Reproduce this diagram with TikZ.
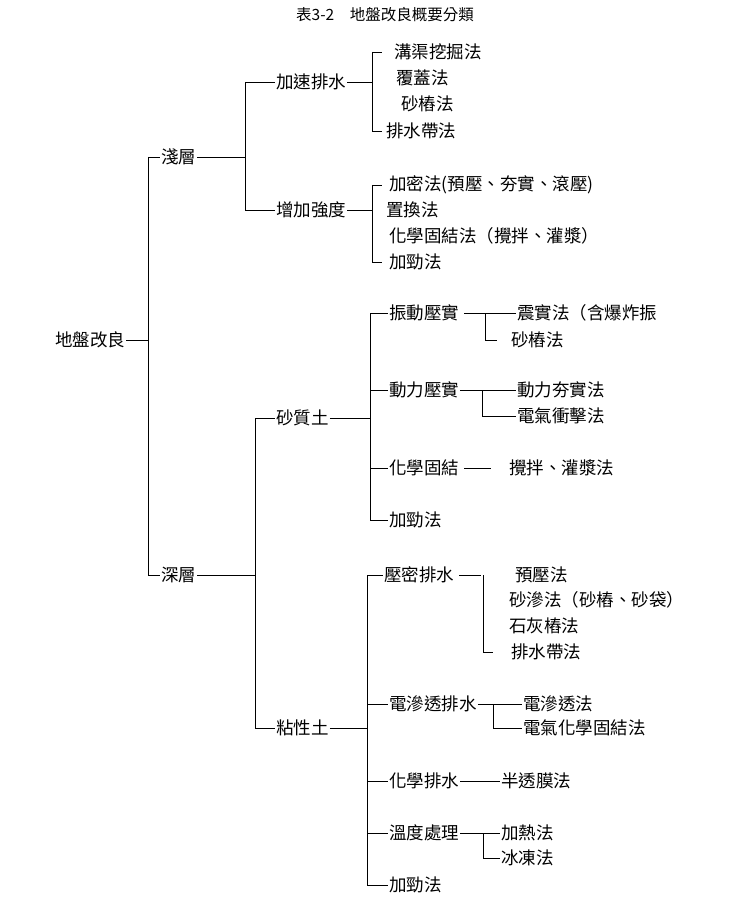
\documentclass[tikz,border=0pt]{standalone}
\usepackage{fontspec}
\setmainfont{Noto Sans CJK TC}
\begin{document}
\begin{tikzpicture}[x=1pt,y=-1pt,
  t/.style={anchor=west,inner sep=1pt,font=\fontsize{17.5}{19}\selectfont},
  l/.style={line width=0.7pt}]
\useasboundingbox (0,0) rectangle (739,917);
\node[font=\fontsize{15.5}{17}\selectfont] (title) at (385,15) {表3-2　地盤改良概要分類};
\node[t] (root) at (54,340) {地盤改良};
\node[t] (qian) at (160,157) {淺層};
\node[t] (shen) at (160,575) {深層};
\node[t] (jsps) at (275,82) {加速排水};
\node[t] (zjqd) at (275,210) {增加強度};
\node[t] (a1) at (393,52) {溝渠挖掘法};
\node[t] (a2) at (395,78) {覆蓋法};
\node[t] (a3) at (400,104) {砂樁法};
\node[t] (a4) at (385,131) {排水帶法};
\node[t] (b1) at (388,185) {加密法(預壓、夯實、滾壓)};
\node[t] (b2) at (385,210) {置換法};
\node[t] (b3) at (388,236) {化學固結法（攪拌、灌漿）};
\node[t] (b4) at (388,262) {加勁法};
\node[t] (szt) at (275,418) {砂質土};
\node[t] (nxt) at (275,728) {粘性土};
\node[t] (c1) at (388,313) {振動壓實};
\node[t] (c2) at (388,390) {動力壓實};
\node[t] (c3) at (388,468) {化學固結};
\node[t] (c4) at (388,520) {加勁法};
\node[t] (c11) at (516,313) {震實法（含爆炸振};
\node[t] (c12) at (510,340) {砂樁法};
\node[t] (c21) at (516,390) {動力夯實法};
\node[t] (c22) at (516,416) {電氣衝擊法};
\node[t] (c31) at (508,468) {攪拌、灌漿法};
\node[t] (d1) at (383,575) {壓密排水};
\node[t] (d2) at (388,704) {電滲透排水};
\node[t] (d3) at (388,781) {化學排水};
\node[t] (d4) at (388,833) {溫度處理};
\node[t] (d5) at (388,885) {加勁法};
\node[t] (d11) at (514,575) {預壓法};
\node[t] (d12) at (508,600) {砂滲法（砂樁、砂袋）};
\node[t] (d13) at (508,626) {石灰樁法};
\node[t] (d14) at (510,652) {排水帶法};
\node[t] (d21) at (522,704) {電滲透法};
\node[t] (d22) at (522,728) {電氣化學固結法};
\node[t] (d31) at (500,781) {半透膜法};
\node[t] (d41) at (500,833) {加熱法};
\node[t] (d42) at (500,858) {冰凍法};
% trunks
\coordinate (T0) at (148,0);
\coordinate (T1) at (245,0);
\coordinate (T2) at (255,0);
\coordinate (T3) at (372,0);
\coordinate (T4) at (372,0);
\coordinate (T5) at (370,0);
\coordinate (T6) at (367,0);
\coordinate (U1) at (485,0);
\coordinate (U2) at (482,0);
\coordinate (U3) at (483,0);
\coordinate (U4) at (493,0);
\coordinate (U5) at (483,0);
\begin{scope}[l]
\draw (root.east) -- (T0 |- root.east);
\draw (T0 |- qian.west) -- (T0 |- shen.west);
\foreach \n in {qian,shen} \draw (T0 |- \n.west) -- (\n.west);
\draw (qian.east) -- (T1 |- qian.east);
\draw (T1 |- jsps.west) -- (T1 |- zjqd.west);
\foreach \n in {jsps,zjqd} \draw (T1 |- \n.west) -- (\n.west);
\draw (jsps.east) -- (T3 |- jsps.east);
\draw (T3 |- a1.west) -- (T3 |- a4.west);
\draw (T3 |- a1.west) -- ++(10,0);
\draw (T3 |- a4.west) -- ++(10,0);
\draw (zjqd.east) -- (T4 |- zjqd.east);
\draw (T4 |- b1.west) -- (T4 |- b4.west);
\draw (T4 |- b1.west) -- ++(10,0);
\draw (T4 |- b4.west) -- ++(10,0);
\draw (shen.east) -- (T2 |- shen.east);
\draw (T2 |- szt.west) -- (T2 |- nxt.west);
\foreach \n in {szt,nxt} \draw (T2 |- \n.west) -- (\n.west);
\draw (szt.east) -- (T5 |- szt.east);
\draw (T5 |- c1.west) -- (T5 |- c4.west);
\foreach \n in {c1,c2,c3,c4} \draw (T5 |- \n.west) -- (\n.west);
\draw (c1.east) ++(4,0) -- (c11.west);
\draw (U1 |- c11.west) -- (U1 |- c12.west) -- ++(12,0);
\draw (c2.east) -- (c21.west);
\draw (U2 |- c21.west) -- (U2 |- c22.west) -- (c22.west);
\draw (c3.east) ++(4,0) -- ++(27,0);
\draw (nxt.east) -- (T6 |- nxt.east);
\draw (T6 |- d1.west) -- (T6 |- d5.west);
\foreach \n in {d1,d2,d3,d4,d5} \draw (T6 |- \n.west) -- (\n.west);
\draw (d1.east) ++(4,0) -- ++(22,0);
\draw (U3 |- d11.west) -- (U3 |- d14.west) -- ++(10,0);
\draw (d2.east) -- (d21.west);
\draw (U4 |- d21.west) -- (U4 |- d22.west) -- (d22.west);
\draw (d3.east) -- (d31.west);
\draw (d4.east) -- (d41.west);
\draw (U5 |- d41.west) -- (U5 |- d42.west) -- (d42.west);
\end{scope}
\end{tikzpicture}
\end{document}
